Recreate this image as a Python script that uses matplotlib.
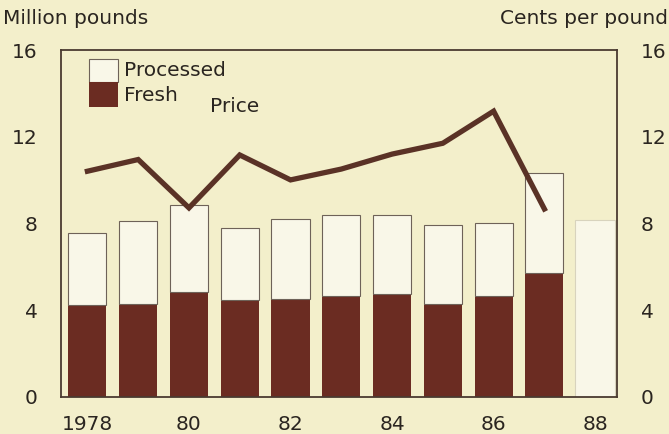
import numpy as np
import matplotlib.pyplot as plt

years = [1978, 1979, 1980, 1981, 1982, 1983, 1984, 1985, 1986, 1987, 1988]
fresh = [4.26, 4.31, 4.86, 4.46, 4.54, 4.65, 4.76, 4.29, 4.65, 5.7]
total = [7.58, 8.12, 8.84, 7.78, 8.2, 8.4, 8.38, 7.92, 8.01, 10.31, 8.15]
price = [10.41, 10.95, 8.72, 11.16, 10.01, 10.51, 11.2, 11.7, 13.18, 8.67]
xlabels = ["1978", "80", "82", "84", "86", "88"]
yticks = [0, 4, 8, 12, 16]

bg = "#f3efcb"
pale = "#f9f7e8"
brown = "#6b2c22"
linec = "#5a3226"
ink = "#2a2520"
fs = 14.5

plt.rcParams['font.family'] = ['DejaVu Sans']
fig = plt.figure(figsize=(6.69, 4.34), dpi=100, facecolor=bg)
ax = fig.add_axes([61/669, 1-397/434, 556/669, 347/434], facecolor=bg)

x = np.arange(len(years))
n = len(fresh)
processed = [t - f for t, f in zip(total[:n], fresh)]

# stacked bars: fresh on the bottom, processed on top; last year has only a total
ax.bar(x[:n], fresh, width=0.75, color=brown, edgecolor="none", zorder=2)
ax.bar(x[:n], processed, bottom=fresh, width=0.75, color=pale,
       edgecolor="#6e6258", linewidth=0.8, zorder=2)
ax.bar(x[n:], total[n:], width=0.8, color=pale, edgecolor="#d8d3bd",
       linewidth=0.8, zorder=2)

ax.set_xlim(-0.52, 10.43)
ax.set_ylim(0, 16)
ax.set_xticks(x[::2])
ax.set_xticklabels(xlabels)
ax.set_yticks(yticks)
ax.tick_params(axis="both", length=0, labelsize=fs, colors=ink)
ax.tick_params(axis="y", pad=17)
ax.tick_params(axis="x", pad=13)
for lab in ax.get_yticklabels():
    lab.set_horizontalalignment("right")
for s in ax.spines.values():
    s.set_color("#4a3a30")
    s.set_linewidth(1.3)

ax2 = ax.twinx()
ax2.set_ylim(0, 16)
ax2.set_yticks(yticks)
ax2.tick_params(axis="y", length=0, labelsize=fs, colors=ink, pad=17)
for s in ax2.spines.values():
    s.set_visible(False)
ax2.plot(x[:len(price)], price, color=linec, linewidth=3.8,
         solid_joinstyle="miter", zorder=3)
ax2.text(2.9, 13.4, "Price", fontsize=fs, color=ink, ha="center", va="center")

# legend drawn as two stacked swatches
ax.add_patch(plt.Rectangle((0.05, 0.908), 0.052, 0.066, transform=ax.transAxes,
                           facecolor=pale, edgecolor="#6e6258", linewidth=0.8))
ax.add_patch(plt.Rectangle((0.05, 0.836), 0.052, 0.072, transform=ax.transAxes,
                           facecolor=brown, edgecolor="none"))
ax.text(0.113, 0.94, "Processed", transform=ax.transAxes, fontsize=fs,
        color=ink, va="center")
ax.text(0.113, 0.87, "Fresh", transform=ax.transAxes, fontsize=fs,
        color=ink, va="center")

fig.text(3/669, 1-19/434, "Million pounds", fontsize=fs, color=ink, va="center")
fig.text(668/669, 1-19/434, "Cents per pound", fontsize=fs, color=ink,
         va="center", ha="right")

fig.savefig("out.png", dpi=100, facecolor=bg)
